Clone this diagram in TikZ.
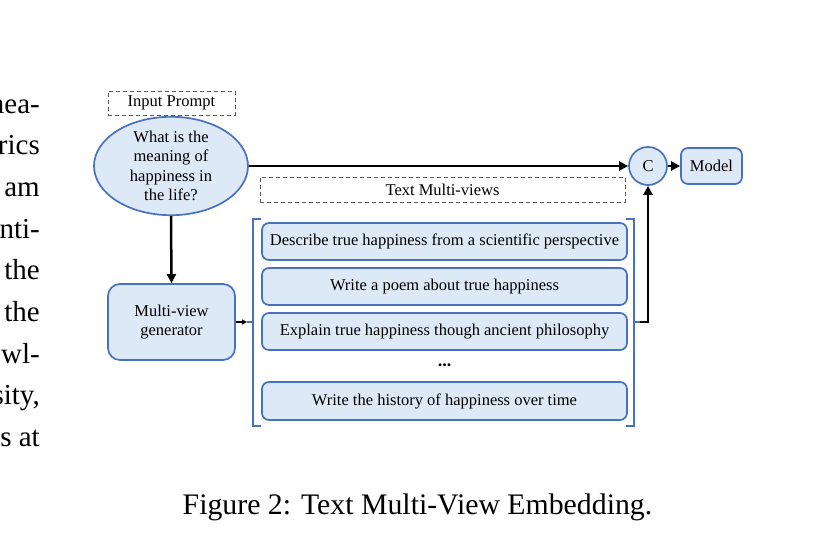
\documentclass[tikz,border=0pt]{standalone}
\usepackage{fontspec}
\setmainfont{Liberation Serif}
\usetikzlibrary{arrows.meta,shapes.geometric}
\definecolor{bstroke}{RGB}{72,114,192}
\definecolor{bfill}{RGB}{221,233,247}
\definecolor{dgray}{RGB}{90,90,90}
\begin{document}
\begin{tikzpicture}[x=1pt,y=-1pt,
  diag/.style={font=\fontsize{16.5}{19.3}\selectfont, text=black},
  bluebox/.style={diag, draw=bstroke, fill=bfill, line width=1.7pt, rounded corners=7pt, inner sep=0pt, align=center},
  dashbox/.style={diag, draw=dgray, dashed, dash pattern=on 4pt off 3pt, line width=0.9pt, inner sep=0pt},
  bigarrow/.style={line width=2.5pt, -{Triangle[length=9pt,width=9pt]}},
  smallarrow/.style={line width=1.3pt, -{Triangle[length=5pt,width=5pt]}},
  brack/.style={draw=bstroke, line width=2.2pt},
  body/.style={font=\fontsize{29}{35}\selectfont, anchor=base east, inner sep=0pt}
]
\useasboundingbox (0,0) rectangle (836,549);

% left column text fragments
\node[body] (t1) at (40,113) {mea-};
\node[body] (t2) at (40,154.7) {rics};
\node[body] (t3) at (40,196.4) {am};
\node[body] (t4) at (40,238.1) {nti-};
\node[body] (t5) at (40,279.8) {the};
\node[body] (t6) at (40,321.5) {the};
\node[body] (t7) at (40,363.2) {wl-};
\node[body] (t8) at (40,404.9) {sity,};
\node[body] (t9) at (40,446.6) {s at};

% input prompt
\node[dashbox, minimum width=127pt, minimum height=24pt] (ip) at (171.5,103) {Input Prompt};
\node[bluebox, ellipse, minimum width=154pt, minimum height=98pt] (q) at (171,166)
  {What is the\\meaning of\\happiness in\\the life?};

\node[bluebox, rounded corners=12pt, minimum width=127pt, minimum height=76pt] (gen) at (171.5,322)
  {Multi-view\\generator};

% text multi-views
\node[dashbox, minimum width=365pt, minimum height=25pt] (tmv) at (442.5,189.5) {Text Multi-views};
\node[bluebox, minimum width=365pt, minimum height=37pt] (v1) at (444.5,241.5)
  {Describe true happiness from a scientific perspective};
\node[bluebox, minimum width=365pt, minimum height=37pt] (v2) at (444.5,286.5)
  {Write a poem about true happiness};
\node[bluebox, minimum width=365pt, minimum height=37pt] (v3) at (444.5,331.5)
  {Explain true happiness though ancient philosophy};
\node[diag, font=\fontsize{18}{20}\selectfont\bfseries] (dots) at (444.5,365) {...};
\node[bluebox, minimum width=365pt, minimum height=38pt] (v4) at (444.5,401)
  {Write the history of happiness over time};

% C and model
\node[bluebox, circle, minimum size=38pt] (C) at (648,166) {C};
\node[bluebox, minimum width=61pt, minimum height=36pt] (M) at (711.5,166) {Model};

% brackets
\coordinate (lb) at (247,322);
\coordinate (rb) at (640,322);
\draw[brack] (261,219) -- (253,219) -- (253,426) -- (261,426);
\draw[brack] (253,322) -- (lb);
\draw[brack] (626,219) -- (634,219) -- (634,426) -- (626,426);
\draw[brack] (634,322) -- (rb);

% connectors
\draw[bigarrow] (q.east) -- (C.west);
\draw[bigarrow] (q.south) -- (gen.north);
\draw[smallarrow] (gen.east) -- (lb);
\draw[bigarrow] (rb) -| (C.south);
\draw[bigarrow] (C.east) -- (M.west);

% caption
\node[font=\fontsize{29.8}{35}\selectfont, anchor=base, inner sep=0pt] (cap) at (417.5,514)
  {Figure 2: Text Multi-View Embedding.};
\end{tikzpicture}
\end{document}
